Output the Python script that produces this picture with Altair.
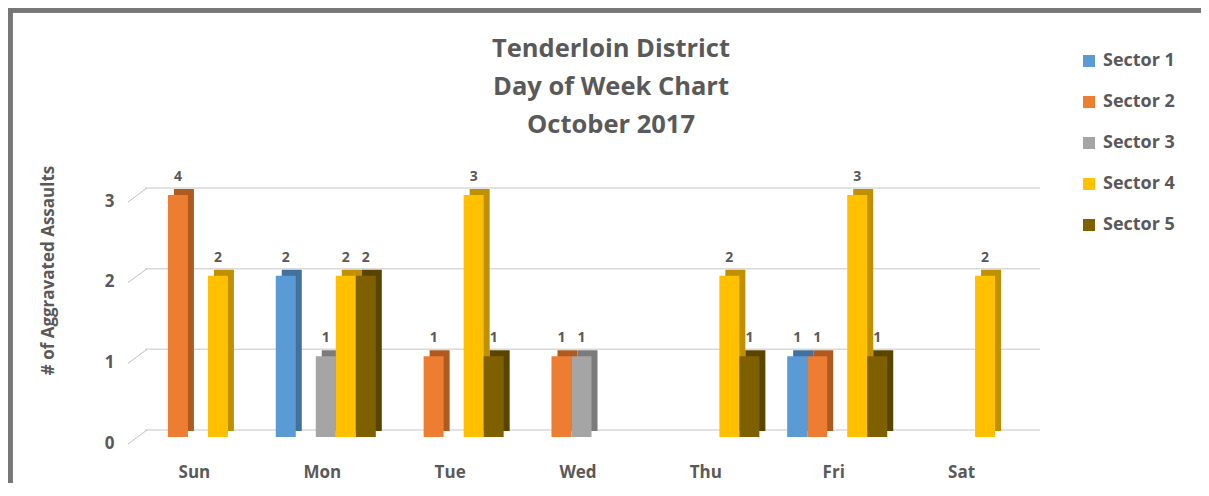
import altair as alt
import pandas as pd

# ---------------- data ----------------
days = ["Sun", "Mon", "Tue", "Wed", "Thu", "Fri", "Sat"]
sectors = ["Sector 1", "Sector 2", "Sector 3", "Sector 4", "Sector 5"]
sector1 = [0, 2, 0, 0, 0, 1, 0]
sector2 = [4, 0, 1, 1, 0, 1, 0]
sector3 = [0, 1, 0, 1, 0, 0, 0]
sector4 = [2, 2, 3, 0, 2, 3, 2]
sector5 = [0, 2, 1, 0, 1, 1, 0]
y_ticks = [0, 1, 2, 3]
title_lines = ["Tenderloin District", "Day of Week Chart", "October 2017"]
y_title = "# of Aggravated Assaults"

front_colors = ["#5B9BD5", "#ED7D31", "#A5A5A5", "#FFC000", "#7F6000"]
side_colors = ["#41719C", "#AE5A21", "#7B7B7B", "#BF9000", "#5A4400"]

rows = []
for si, (name, vals) in enumerate(zip(sectors, [sector1, sector2, sector3, sector4, sector5])):
    for di, (d, v) in enumerate(zip(days, vals)):
        if v > 0:
            rows.append(dict(day=d, di=di, sector=name, si=si, count=v))
df = pd.DataFrame(rows)

# ---------------- layout ----------------
TOTAL_W, TOTAL_H = 1193, 475
W, H = 895, 242
LEFT, TOP = 126, 187
PAD = dict(left=LEFT, top=TOP, right=TOTAL_W - LEFT - W, bottom=TOTAL_H - TOP - H)
GROUP = 0.7825
SLOT = GROUP / 5
FONT = "Open Sans"
TXT = "#595959"

xscale = alt.Scale(domain=[-0.5, 6.5], nice=False, zero=False)
yscale = alt.Scale(domain=[0, 3], nice=False, clamp=True)

label_expr = "[" + ",".join(f"'{d}'" for d in days) + "][datum.value]"
xaxis = alt.Axis(values=list(range(7)), labelExpr=label_expr, title=None,
                 domain=False, ticks=False, grid=False, labelFont=FONT,
                 labelFontSize=17, labelFontWeight="bold", labelColor=TXT,
                 labelPadding=27, labelOffset=-4)
yaxis = alt.Axis(values=y_ticks, title=y_title, domain=False, ticks=False, grid=False,
                 labelFont=FONT, labelFontSize=17, labelFontWeight="bold",
                 labelColor=TXT, labelPadding=20, labelOffset=6,
                 titleFont=FONT, titleFontSize=17, titleFontWeight="bold",
                 titleColor=TXT, titleX=-86, titleY=75, titleAngle=270,
                 titleAlign="center", titleBaseline="middle")

base = alt.Chart(df).transform_calculate(
    x0=f"datum.di - {GROUP / 2} + datum.si * {SLOT}",
    x1=f"datum.di - {GROUP / 2} + (datum.si + 1) * {SLOT}",
    xc=f"datum.di - {GROUP / 2} + (datum.si + 0.5) * {SLOT}",
    side="datum.sector",
)

grid_df = pd.DataFrame({"v": y_ticks})
grid = alt.Chart(grid_df).mark_rule(color="#D9D9D9", strokeWidth=1.5, yOffset=-7).encode(
    y=alt.Y("v:Q", scale=yscale, axis=yaxis),
    x=alt.value(11), x2=alt.value(906),
)
diag = alt.Chart(grid_df).mark_rule(color="#BFBFBF", strokeWidth=1, yOffset=7, y2Offset=-7).encode(
    y=alt.Y("v:Q", scale=yscale, axis=yaxis), y2="v:Q",
    x=alt.value(-6), x2=alt.value(13),
)

back = base.mark_bar(xOffset=6, x2Offset=6, yOffset=-6, y2Offset=-6).encode(
    x=alt.X("x0:Q", scale=xscale, axis=xaxis), x2="x1:Q",
    y=alt.Y("count:Q", scale=yscale, axis=yaxis, stack=None), y2=alt.Y2Datum(0),
    color=alt.Color("side:N", scale=alt.Scale(domain=sectors, range=side_colors), legend=None),
)
front = base.mark_bar().encode(
    x=alt.X("x0:Q", scale=xscale, axis=xaxis), x2="x1:Q",
    y=alt.Y("count:Q", scale=yscale, axis=yaxis, stack=None), y2=alt.Y2Datum(0),
    color=alt.Color("sector:N", scale=alt.Scale(domain=sectors, range=front_colors),
                    legend=alt.Legend(orient="none", legendX=946, legendY=-143, title=None,
                                      symbolType="square", symbolSize=144, symbolStrokeWidth=0,
                                      labelFont=FONT, labelFontSize=18, labelFontWeight="bold",
                                      labelColor=TXT, rowPadding=23, labelOffset=5)),
)
labels = base.mark_text(dy=-18, font=FONT, fontSize=14, fontWeight="bold", color=TXT).encode(
    x=alt.X("xc:Q", scale=xscale, axis=xaxis),
    y=alt.Y("count:Q", scale=yscale, axis=yaxis, stack=None),
    text="count:Q",
)

title = alt.Chart(pd.DataFrame({"t": ["\n".join(title_lines)]})).mark_text(
    lineBreak="\n", lineHeight=38, font=FONT, fontSize=25.5, fontWeight="bold",
    color=TXT, align="center", baseline="alphabetic"
).encode(text="t:N", x=alt.value(477), y=alt.value(-138))

frame = alt.Chart(grid_df).mark_rect(filled=False, stroke="#767676", strokeWidth=5).encode(
    x=alt.value(2 - LEFT), y=alt.value(2 - TOP),
    x2=alt.value(TOTAL_W + 20 - LEFT), y2=alt.value(TOTAL_H + 20 - TOP),
)

chart = alt.layer(frame, grid, diag, back, front, labels, title).resolve_scale(
    color="independent"
).resolve_legend(color="independent").properties(
    width=W, height=H, padding=PAD,
    autosize=alt.AutoSizeParams(type="none"),
).configure(background="white").configure_view(stroke=None)

chart.save("out.html", embed_options={"renderer": "svg", "actions": False})
